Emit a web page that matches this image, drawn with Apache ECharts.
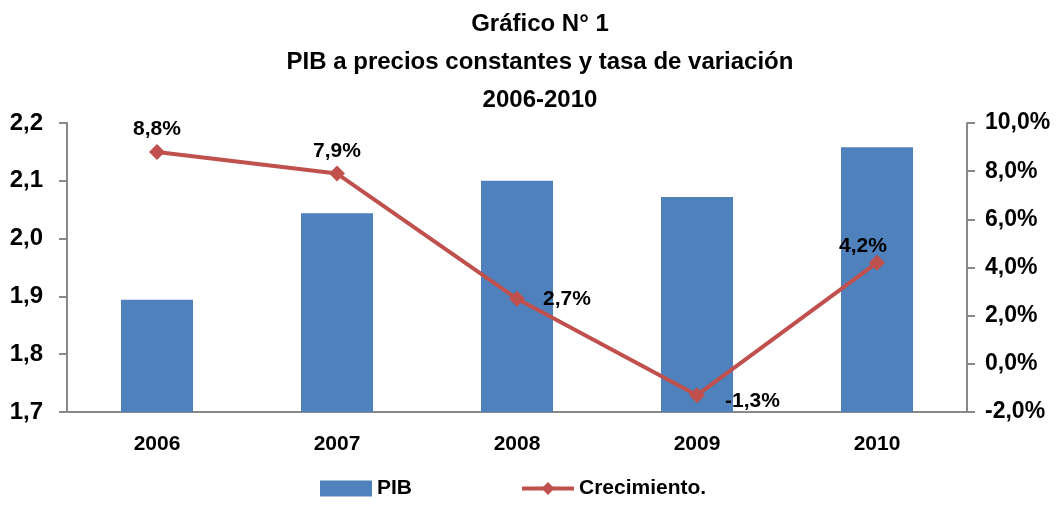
<!DOCTYPE html>
<html>
<head>
<meta charset="utf-8">
<script src="https://cdn.jsdelivr.net/npm/echarts@6/dist/echarts.min.js"></script>
<style>
  html, body { margin: 0; padding: 0; background: #fff; }
  #chart { width: 1064px; height: 506px; }
</style>
</head>
<body>
<div id="chart"></div>
<script>
const years = ['2006', '2007', '2008', '2009', '2010']
const pib = [1.894, 2.044, 2.100, 2.072, 2.158]
const crecimiento = [8.8, 7.9, 2.7, -1.3, 4.2]
const labelPos = ['top', 'top', 'right', 'right', 'top']
const labelShift = [[0, 4], [0, 4], [10, 0], [12, 6], [-14, 10]]

const font = '"Liberation Sans Narrow", "Liberation Sans", Arial, sans-serif'
const comma = (v, d) => v.toFixed(d).replace('.', ',')

const chart = echarts.init(document.getElementById('chart'))

const option = {
  backgroundColor: '#fff',
  animation: false,
  title: {
    text: 'Gráfico N° 1\nPIB a precios constantes y tasa de variación\n2006-2010',
    left: 535,
    textAlign: 'center',
    top: 0,
    textStyle: { fontFamily: font, fontWeight: 'bold', fontSize: 24, lineHeight: 38, color: '#000' }
  },
  legend: {
    bottom: 2,
    left: 315,
    itemGap: 108,
    itemWidth: 52,
    itemHeight: 16,
    textStyle: { fontFamily: font, fontWeight: 'bold', fontSize: 21, color: '#000' },
    data: [
      { name: 'PIB', icon: 'rect' },
      { name: 'Crecimiento.', itemStyle: { color: '#C0504D' }, lineStyle: { width: 4, color: '#C0504D' } }
    ]
  },
  grid: { left: 67, right: 97, top: 123, bottom: 94 },
  xAxis: {
    type: 'category',
    data: years,
    axisLine: { onZero: false, lineStyle: { color: '#898989', width: 2 } },
    axisTick: { length: 8, lineStyle: { color: '#898989', width: 2 } },
    axisLabel: { margin: 22, fontFamily: font, fontWeight: 'bold', fontSize: 21, color: '#000' }
  },
  yAxis: [
    {
      type: 'value',
      min: 1.7,
      max: 2.2,
      interval: 0.1,
      axisLine: { show: true, lineStyle: { color: '#898989', width: 2 } },
      axisTick: { show: true, inside: false, length: 8, lineStyle: { color: '#898989', width: 2 } },
      splitLine: { show: false },
      axisLabel: {
        margin: 24,
        fontFamily: font, fontWeight: 'bold', fontSize: 24, color: '#000',
        formatter: v => comma(v, 1)
      }
    },
    {
      type: 'value',
      min: -2,
      max: 10,
      interval: 2,
      position: 'right',
      axisLine: { show: true, lineStyle: { color: '#898989', width: 2 } },
      axisTick: { show: true, length: 8, lineStyle: { color: '#898989', width: 2 } },
      splitLine: { show: false },
      axisLabel: {
        margin: 18,
        fontFamily: font, fontWeight: 'bold', fontSize: 23, color: '#000',
        formatter: v => comma(v, 1) + '%'
      }
    }
  ],
  series: [
    {
      name: 'PIB',
      type: 'bar',
      data: pib,
      barWidth: '40%',
      itemStyle: { color: '#4F81BD' }
    },
    {
      name: 'Crecimiento.',
      type: 'line',
      yAxisIndex: 1,
      data: crecimiento.map((v, i) => ({
        value: v,
        label: { position: labelPos[i], distance: 8, offset: labelShift[i] }
      })),
      symbol: 'diamond',
      symbolSize: 16,
      lineStyle: { color: '#C0504D', width: 4 },
      itemStyle: { color: '#C0504D' },
      label: {
        show: true,
        fontFamily: font, fontWeight: 'bold', fontSize: 21, color: '#000',
        formatter: p => comma(p.value, 1) + '%'
      }
    }
  ]
}

chart.setOption(option)
</script>
</body>
</html>
